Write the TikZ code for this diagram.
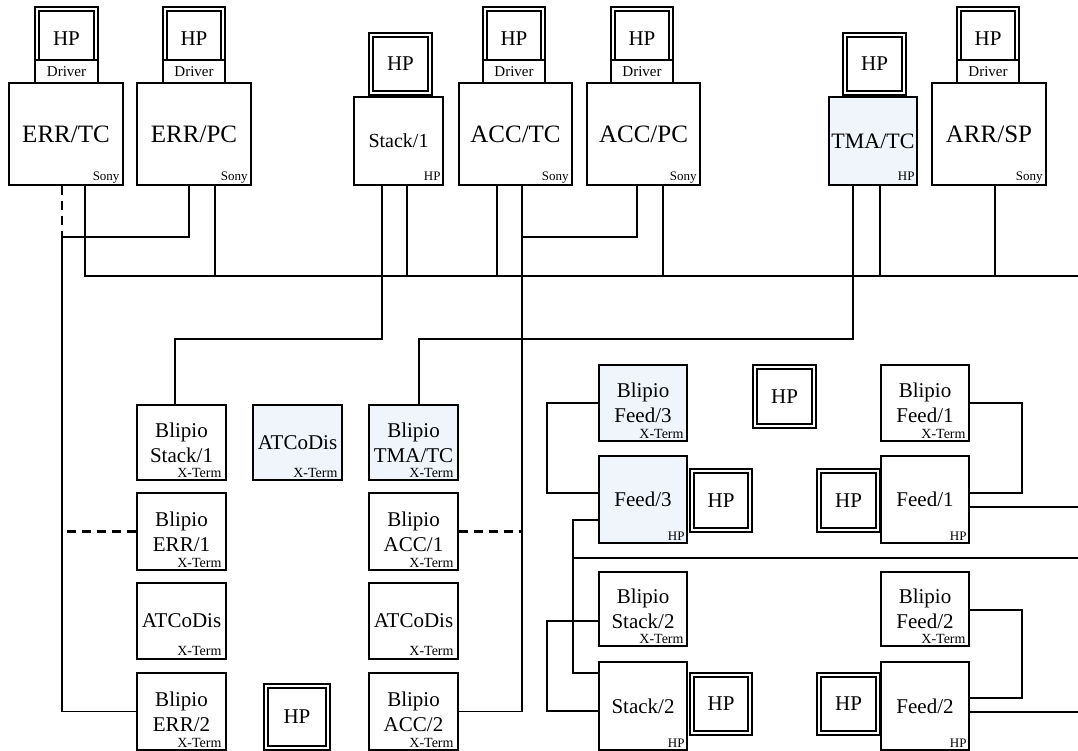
\documentclass[tikz,border=0pt]{standalone}
\usepackage{fontspec}
\setmainfont{Liberation Serif}
\definecolor{boxblue}{RGB}{240,245,252}
\tikzset{
  box/.style={draw, line width=1.4pt, fill=white, inner sep=0pt, align=center},
  blue/.style={fill=boxblue},
  bigf/.style={font=\fontsize{25}{25}\selectfont},
  midf/.style={font=\fontsize{20}{24}\selectfont},
  tmaf/.style={font=\fontsize{22}{24}\selectfont},
  labf/.style={font=\fontsize{21}{25}\selectfont},
  drvf/.style={font=\fontsize{15}{15}\selectfont},
  hpbox/.style={draw, line width=1.3pt, double, double distance=2.8pt, fill=white, inner sep=0pt, font=\fontsize{21}{21}\selectfont},
  conn/.style={line width=1.3pt},
  dashline/.style={line width=2.4pt, dash pattern=on 9pt off 6pt},
  corner/.style={inner sep=0pt, anchor=base east},
  cs/.style={font=\fontsize{13}{13}\selectfont},
  cx/.style={font=\fontsize{14}{14}\selectfont}
}
% \bx{name}{x1}{y1}{x2}{y2}{style}{text}
\newcommand\bx[7]{%
  \pgfmathsetmacro\bw{#4-#2}\pgfmathsetmacro\bh{#5-#3}%
  \pgfmathsetmacro\bcx{(#2+#4)/2}\pgfmathsetmacro\bcy{(#3+#5)/2}%
  \node[#6, minimum width=\bw pt, minimum height=\bh pt] (#1) at (\bcx,\bcy) {#7};}
% \hp{name}{x1}{y1}{x2}{y2}
\newcommand\hp[5]{%
  \pgfmathsetmacro\bw{#4-#2-4.1}\pgfmathsetmacro\bh{#5-#3-4.1}%
  \pgfmathsetmacro\bcx{(#2+#4)/2}\pgfmathsetmacro\bcy{(#3+#5)/2}%
  \node[hpbox, minimum width=\bw pt, minimum height=\bh pt] (#1) at (\bcx,\bcy) {HP};}
% \cl{node}{style}{text}{dx}{dy}
\newcommand\cl[5]{\node[corner,#2] (#1-c) at ([shift={(#4pt,#5pt)}]#1.south east) {#3};}
\begin{document}
\begin{tikzpicture}[x=1pt,y=-1pt]
\useasboundingbox (0,0) rectangle (1078,751);
% ---------- top row ----------
\bx{errtc}{9}{83}{123}{185}{box,bigf}{ERR/TC}
\hp{errtchp}{35}{7}{98}{71}
\bx{errtcdrv}{35}{60}{98}{83}{box,drvf}{Driver}
\cl{errtc}{cs}{Sony}{-4}{5}

\bx{errpc}{137}{83}{251}{185}{box,bigf}{ERR/PC}
\hp{errpchp}{163}{7}{225}{71}
\bx{errpcdrv}{163}{60}{225}{83}{box,drvf}{Driver}
\cl{errpc}{cs}{Sony}{-4}{5}

\bx{stack1}{354}{97}{443}{185}{box,midf}{Stack/1}
\hp{stack1hp}{369}{33}{432}{95}
\cl{stack1}{cs}{HP}{-3}{5}

\bx{acctc}{459}{83}{572}{185}{box,bigf}{ACC/TC}
\hp{acctchp}{483}{7}{545}{71}
\bx{acctcdrv}{483}{60}{545}{83}{box,drvf}{Driver}
\cl{acctc}{cs}{Sony}{-4}{5}

\bx{accpc}{587}{83}{700}{185}{box,bigf}{ACC/PC}
\hp{accpchp}{611}{7}{673}{71}
\bx{accpcdrv}{611}{60}{673}{83}{box,drvf}{Driver}
\cl{accpc}{cs}{Sony}{-4}{5}

\bx{tmatc}{829}{97}{917}{185}{box,blue,tmaf}{TMA/TC}
\hp{tmatchp}{843}{33}{906}{95}
\cl{tmatc}{cs}{HP}{-3}{5}

\bx{arrsp}{932}{83}{1046}{185}{box,bigf}{ARR/SP}
\hp{arrsphp}{957}{7}{1019}{71}
\bx{arrspdrv}{957}{60}{1019}{83}{box,drvf}{Driver}
\cl{arrsp}{cs}{Sony}{-4}{5}

% ---------- left / middle columns ----------
\bx{bstack1}{137}{405}{226}{480}{box,labf}{Blipio\\Stack/1}
\cl{bstack1}{cx}{X-Term}{-5}{3}
\bx{atco1}{253}{405}{342}{480}{box,blue,labf}{ATCoDis}
\cl{atco1}{cx}{X-Term}{-5}{3}
\bx{btma}{369}{405}{458}{480}{box,blue,labf}{Blipio\\TMA/TC}
\cl{btma}{cx}{X-Term}{-5}{3}

\bx{berr1}{137}{493}{226}{570}{box,labf}{Blipio\\ERR/1}
\cl{berr1}{cx}{X-Term}{-5}{3}
\bx{bacc1}{369}{493}{458}{570}{box,labf}{Blipio\\ACC/1}
\cl{bacc1}{cx}{X-Term}{-5}{3}

\bx{atco2}{137}{583}{226}{659}{box,labf}{ATCoDis}
\cl{atco2}{cx}{X-Term}{-5}{4}
\bx{atco3}{369}{583}{458}{659}{box,labf}{ATCoDis}
\cl{atco3}{cx}{X-Term}{-5}{4}

\bx{berr2}{137}{673}{226}{750}{box,labf}{Blipio\\ERR/2}
\cl{berr2}{cx}{X-Term}{-5}{3}
\hp{lonehp}{264}{684}{330}{750}
\bx{bacc2}{369}{673}{458}{750}{box,labf}{Blipio\\ACC/2}
\cl{bacc2}{cx}{X-Term}{-5}{3}

% ---------- right area ----------
\bx{bfeed3}{599}{365}{687}{441}{box,blue,labf}{Blipio\\Feed/3}
\cl{bfeed3}{cx}{X-Term}{-4}{3}
\bx{feed3}{599}{456}{687}{543}{box,blue,labf}{Feed/3}
\cl{feed3}{cs}{HP}{-3}{3}
\hp{feed3hp}{690}{469}{752}{532}
\hp{midhp}{753}{365}{816}{428}
\bx{bfeed1}{881}{365}{969}{441}{box,labf}{Blipio\\Feed/1}
\cl{bfeed1}{cx}{X-Term}{-4}{3}
\bx{feed1}{881}{456}{969}{543}{box,labf}{Feed/1}
\cl{feed1}{cs}{HP}{-3}{3}
\hp{feed1hp}{817}{469}{880}{532}

\bx{bstack2}{599}{572}{687}{646}{box,labf}{Blipio\\Stack/2}
\cl{bstack2}{cx}{X-Term}{-4}{3}
\bx{stack2}{599}{662}{687}{750}{box,labf}{Stack/2}
\cl{stack2}{cs}{HP}{-3}{3}
\hp{stack2hp}{690}{673}{752}{735}
\bx{bfeed2}{881}{572}{969}{646}{box,labf}{Blipio\\Feed/2}
\cl{bfeed2}{cx}{X-Term}{-4}{3}
\bx{feed2}{881}{662}{969}{750}{box,labf}{Feed/2}
\cl{feed2}{cs}{HP}{-3}{3}
\hp{feed2hp}{817}{673}{880}{735}

% ---------- connectors ----------
\coordinate (busR) at (1078,276);
\coordinate (lj) at (62,237);
\coordinate (aj) at (522,237);
\draw[dashline] (62,0 |- errtc.south) -- (lj);
\draw[conn] (189,0 |- errpc.south) |- (lj) |- (berr2.west);
\draw[conn] (85,0 |- errtc.south) |- (busR);
\draw[conn] (215,0 |- errpc.south) -- (215,276);
\draw[conn] (407,0 |- stack1.south) -- (407,276);
\draw[conn] (497,0 |- acctc.south) -- (497,276);
\draw[conn] (663,0 |- accpc.south) -- (663,276);
\draw[conn] (880,0 |- tmatc.south) -- (880,276);
\draw[conn] (995,0 |- arrsp.south) -- (995,276);
\draw[conn] (382,0 |- stack1.south) |- (175,339) -- (175,0 |- bstack1.north);
\draw[conn] (853,0 |- tmatc.south) |- (419,339) -- (419,0 |- btma.north);
\draw[conn] (522,0 |- acctc.south) |- (bacc2.east);
\draw[conn] (637,0 |- accpc.south) |- (aj);
\draw[dashline] (berr1.west) -- (62,0 |- berr1.west);
\draw[dashline] (bacc1.east) -- (521,0 |- bacc1.east);

\draw[conn] (bfeed3.west) -| (547,493) -- (feed3.west |- 0,493);
\draw[conn] (feed3.west |- 0,520) -| (573,673) -- (stack2.west |- 0,673);
\draw[conn] (573,558) -- (1078,558);
\draw[conn] (bstack2.west |- 0,621) -| (547,711) -- (stack2.west |- 0,711);
\draw[conn] (bfeed1.east |- 0,403) -| (1022,493) -- (feed1.east |- 0,493);
\draw[conn] (feed1.east |- 0,507) -- (1078,507);
\draw[conn] (bfeed2.east |- 0,610) -| (1022,698) -- (feed2.east |- 0,698);
\draw[conn] (feed2.east |- 0,712) -- (1078,712);
\end{tikzpicture}
\end{document}
